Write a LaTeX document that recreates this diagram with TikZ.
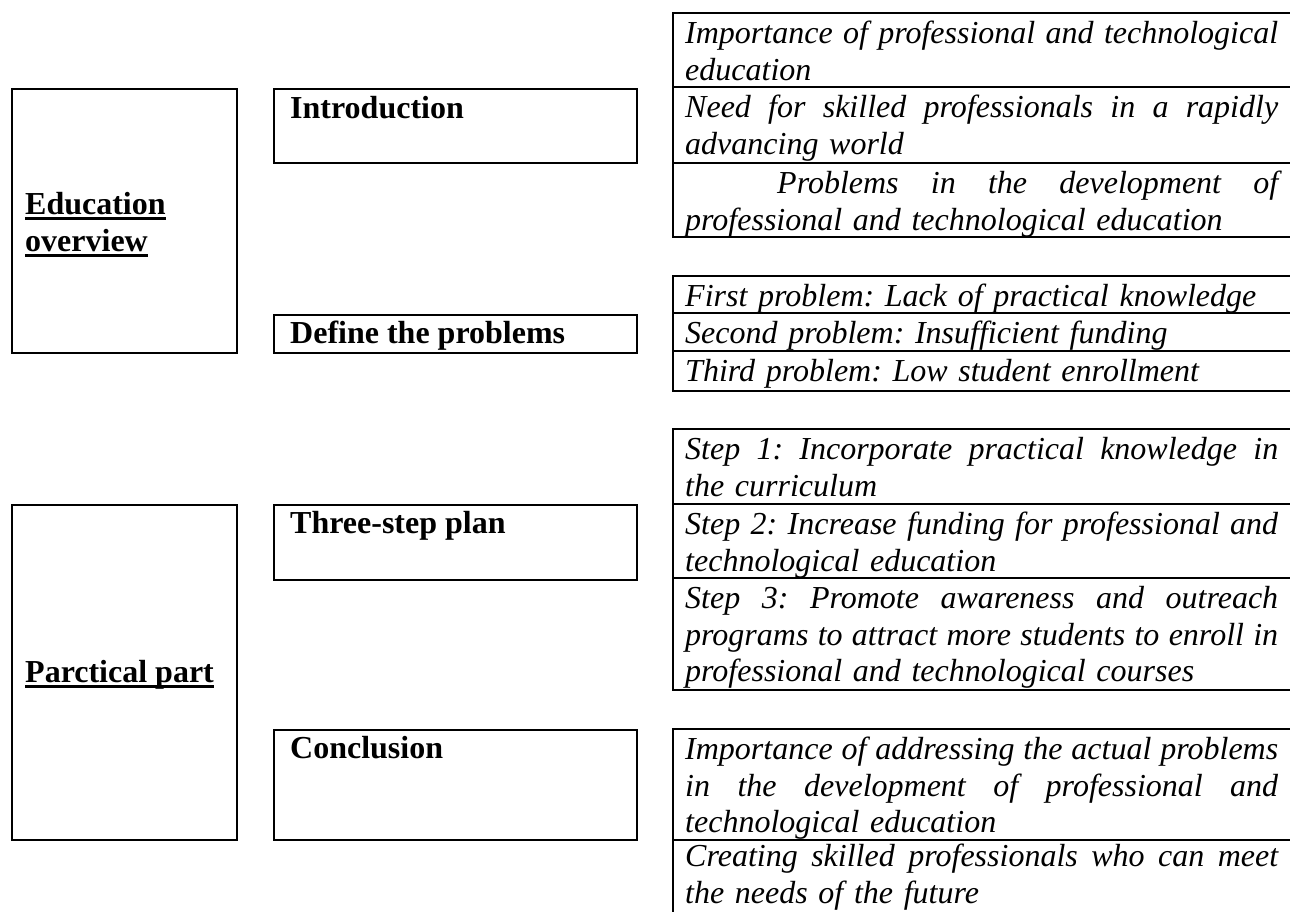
\documentclass[tikz,border=0pt]{standalone}
\usepackage{fontspec}
\setmainfont{Liberation Serif}
\newcommand\jl[1]{{\spaceskip=0pt\xspaceskip=0pt\makebox[593pt][s]{#1}}}
\newcommand\jlind[1]{\hspace*{92pt}{\spaceskip=0pt\xspaceskip=0pt\makebox[501pt][s]{#1}}}
\begin{document}
\frenchspacing
\begin{tikzpicture}[x=1pt,y=-1pt,
  boxst/.style={draw=black,line width=1.8pt,inner sep=0pt,anchor=north west},
  rule/.style={draw=black,line width=1.8pt},
  ulst/.style={draw=black,line width=2.6pt},
  head/.style={anchor=base west,inner sep=0pt,font=\fontsize{32}{36.8}\selectfont\bfseries},
  cell/.style={anchor=north west,inner sep=0pt,text width=593pt,align=left,
    font=\fontsize{32}{36.8}\selectfont\itshape\frenchspacing}]
\useasboundingbox (0,0) rectangle (1290,911);
\fill[white] (0,0) rectangle (1290,911);

% left boxes
\node[boxst,minimum width=225pt,minimum height=264pt] (eo) at (11,88) {};
\node[boxst,minimum width=225pt,minimum height=335pt] (pp) at (11,504) {};
% middle boxes
\node[boxst,minimum width=363pt,minimum height=74pt] (intro) at (273,88) {};
\node[boxst,minimum width=363pt,minimum height=38pt] (def) at (273,314) {};
\node[boxst,minimum width=363pt,minimum height=75pt] (three) at (273,504) {};
\node[boxst,minimum width=363pt,minimum height=110pt] (conc) at (273,729) {};

% left texts
\node[head] (edu1) at (25,214) {Education};
\node[head] (edu2) at (25,251) {overview};
\node[head] (prac) at (25,682) {Parctical part};
\draw[ulst] ([yshift=-4.5pt]edu1.base west) -- ([yshift=-4.5pt]edu1.base east);
\draw[ulst] ([yshift=-4.5pt]edu2.base west) -- ([yshift=-4.5pt]edu2.base east);
\draw[ulst] ([yshift=-4.5pt]prac.base west) -- ([yshift=-4.5pt]prac.base east);

% middle texts
\node[head] (tintro) at (290,118) {Introduction};
\node[head] (tdef) at (290,343) {Define the problems};
\node[head] (tthree) at (290,533) {Three-step plan};
\node[head] (tconc) at (290,758) {Conclusion};

% right column frames
\draw[rule] (1291,13) -- (673,13) -- (673,237) -- (1291,237);
\draw[rule] (673,87) -- (1291,87);
\draw[rule] (673,163) -- (1291,163);
\draw[rule] (1291,276) -- (673,276) -- (673,391) -- (1291,391);
\draw[rule] (673,313) -- (1291,313);
\draw[rule] (673,351) -- (1291,351);
\draw[rule] (1291,429) -- (673,429) -- (673,690) -- (1291,690);
\draw[rule] (673,504) -- (1291,504);
\draw[rule] (673,578) -- (1291,578);
\draw[rule] (1291,729) -- (673,729) -- (673,912);
\draw[rule] (673,840) -- (1291,840);

% right column texts
\node[cell] (a1) at (685,13) {\rule{0pt}{30pt}\jl{Importance of professional and technological}\\education};
\node[cell] (a2) at (685,87) {\rule{0pt}{30pt}\jl{Need for skilled professionals in a rapidly}\\advancing world};
\node[cell] (a3) at (685,163) {\rule{0pt}{30pt}\jlind{Problems in the development of}\\professional and technological education};
\node[cell] (b1) at (685,276) {\rule{0pt}{30pt}First problem: Lack of practical knowledge};
\node[cell] (b2) at (685,313) {\rule{0pt}{30pt}Second problem: Insufficient funding};
\node[cell] (b3) at (685,351) {\rule{0pt}{30pt}Third problem: Low student enrollment};
\node[cell] (c1) at (685,429) {\rule{0pt}{30pt}\jl{Step 1: Incorporate practical knowledge in}\\the curriculum};
\node[cell] (c2) at (685,504) {\rule{0pt}{30pt}\jl{Step 2: Increase funding for professional and}\\technological education};
\node[cell] (c3) at (685,578) {\rule{0pt}{30pt}\jl{Step 3: Promote awareness and outreach}\\\jl{programs to attract more students to enroll in}\\professional and technological courses};
\node[cell] (d1) at (685,729) {\rule{0pt}{30pt}\jl{Importance of addressing the actual problems}\\\jl{in the development of professional and}\\technological education};
\node[cell] (d2) at (685,840) {\rule{0pt}{26pt}\jl{Creating skilled professionals who can meet}\\the needs of the future};
\end{tikzpicture}
\end{document}
